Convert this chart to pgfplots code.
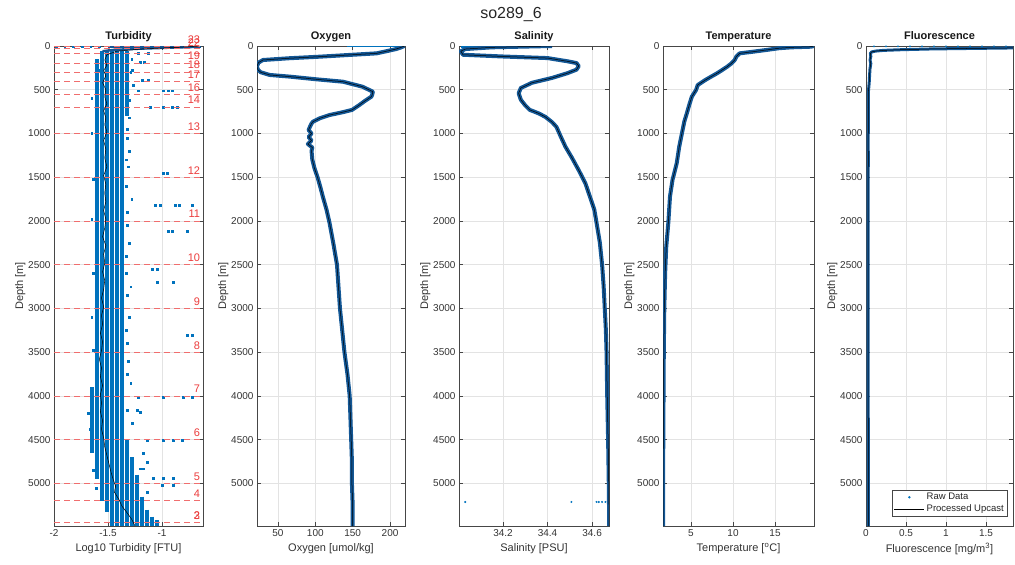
\documentclass[border=0pt]{standalone}
\usepackage{pgfplots}
\pgfplotsset{compat=1.18}
\usepackage{fontspec}
\setmainfont{Liberation Sans}
\definecolor{rawblue}{RGB}{0,114,189}
\definecolor{thickblue}{RGB}{20,88,150}
\definecolor{bred}{RGB}{235,60,60}
\definecolor{dred}{RGB}{240,110,110}
\definecolor{axgray}{RGB}{70,70,70}
\tikzset{blab/.style={anchor=base east, text=bred, font=\fontsize{11}{12}\selectfont, inner sep=0pt, yshift=3pt}}
\pgfplotsset{
 panel/.style={
  scale only axis, height=480pt, y dir=reverse, ymin=0, ymax=5486,
  ytick={0,500,...,5000},
  grid=major, major grid style={gray!22, line width=0.5pt},
  axis line style={axgray, line width=0.5pt},
  major tick style={axgray, line width=0.5pt}, major tick length=4pt,
  tick align=inside,
  tick label style={font=\fontsize{10}{12}\selectfont, text=black!80},
  /pgf/number format/assume math mode=true,
  /pgf/number format/1000 sep={},
  scaled ticks=false,
  ylabel={Depth [m]}, ylabel shift=-4pt,
  label style={font=\fontsize{11}{13}\selectfont, text=black!80},
  title style={font=\bfseries\fontsize{11}{13}\selectfont, text=black!90, yshift=-6pt, text depth=2.5pt},
  anchor=south west,
  clip mode=individual,
 },
 rawline/.style={thickblue, line width=4pt, line join=round},
 procline/.style={black, line width=0.5pt, line join=round},
 rawmark/.style={only marks, mark=*, mark size=0.8pt, rawblue},
 col/.style={rawblue, line width=3.4pt},
 bottle/.style={dred, line width=0.8pt, dash pattern=on 6pt off 4pt},
}
\begin{document}
\begin{tikzpicture}[x=1pt,y=1pt]
\useasboundingbox (0,0) rectangle (1015,565);
\node[font=\fontsize{16}{18}\selectfont, text=black!85] at (511,550) {so289\_6};

% ---------------- Turbidity ----------------
\begin{axis}[panel, at={(54pt,39pt)}, width=149pt, xmin=-2, xmax=-0.62,
  xtick={-2,-1.5,-1}, xlabel={Log10 Turbidity [FTU]}, title={Turbidity}]
\addplot[col] coordinates {(-1.648,3900) (-1.648,4650)};
\addplot[col] coordinates {(-1.602,150) (-1.602,4950)};
\addplot[col] coordinates {(-1.556,60) (-1.556,5200)};
\addplot[col] coordinates {(-1.509,60) (-1.509,5330)};
\addplot[col] coordinates {(-1.463,60) (-1.463,5486)};
\addplot[col] coordinates {(-1.417,60) (-1.417,5486)};
\addplot[col] coordinates {(-1.370,60) (-1.370,5486)};
\addplot[col] coordinates {(-1.324,60) (-1.324,800)};
\addplot[col] coordinates {(-1.324,4500) (-1.324,5486)};
\addplot[col] coordinates {(-1.278,4700) (-1.278,5486)};
\addplot[col] coordinates {(-1.231,4900) (-1.231,5486)};
\addplot[col] coordinates {(-1.185,5150) (-1.185,5486)};
\addplot[col] coordinates {(-1.139,5300) (-1.139,5486)};
\addplot[col] coordinates {(-1.093,5380) (-1.093,5486)};
\addplot[col] coordinates {(-1.046,5420) (-1.046,5486)};
\addplot[rawline, line width=2.5pt] coordinates {(-1.55,60) (-1.45,45) (-1.2,30) (-0.9,18) (-0.64,8)};
\addplot[rawline, line width=2pt] coordinates {(-1.5,14) (-0.64,14)};
\addplot[rawmark, mark=square*, mark size=0.9pt] coordinates {
(-1.98,8)(-1.90,8)(-1.82,8)(-1.74,8)(-1.66,8)(-1.58,8)
(-1.222,84)(-1.13,84)(-1.204,183)(-1.167,183)(-1.574,274)(-1.278,274)
(-1.13,389)(-1.185,389)(-1.222,511)(-0.991,511)(-0.944,511)(-0.907,511)
(-1.111,700)(-0.991,700)(-0.907,700)(-0.861,700)
(-0.991,1450)(-0.954,1450)
(-1.065,1820)(-1.019,1820)(-0.88,1817)(-0.843,1817)(-0.722,1817)
(-0.944,2114)(-0.907,2114)(-0.769,2114)
(-1.093,2549)(-1.046,2549)(-1.046,2697)(-0.898,2697)
(-0.769,3303)(-0.722,3303)
(-1.222,4011)(-0.991,4011)(-0.806,4011)(-0.722,4011)
(-1.324,4160)(-1.231,4160)(-1.204,4183)(-1.278,4310)
(-1.139,4503)(-0.991,4503)(-0.898,4503)(-0.815,4503)
(-1.176,4650)(-1.139,4754)(-1.083,4937)(-0.991,4937)(-0.898,4937)
(-1.204,4830)(-1.176,4830)(-1.0,5017)(-0.898,5017)(-1.139,5097)
(-1.32,1050)(-1.30,1200)(-1.31,1380)(-1.33,1600)(-1.28,1750)(-1.32,2050)
(-1.30,2250)(-1.33,2400)(-1.29,2750)(-1.32,2850)(-1.30,3100)(-1.33,3250)
(-1.31,3600)(-1.32,3750)(-1.29,3850)(-1.28,150)(-1.29,300)(-1.27,450)
(-1.30,620)(-1.30,820)(-1.32,950)(-1.33,1300)(-1.32,1900)(-1.33,2600)(-1.32,3400)
(-1.65,1000)(-1.64,1520)(-1.65,1980)(-1.64,2600)(-1.65,3100)(-1.64,3480)
(-1.68,4200)(-1.67,4380)(-1.64,4850)(-1.61,5050)(-1.65,600)};
% bottle lines
\addplot[bottle] coordinates {(-2,0) (-0.62,0)};
\addplot[bottle] coordinates {(-2,25) (-0.62,25)};
\addplot[bottle] coordinates {(-2,80) (-0.62,80)};
\addplot[bottle] coordinates {(-2,194) (-0.62,194)};
\addplot[bottle] coordinates {(-2,297) (-0.62,297)};
\addplot[bottle] coordinates {(-2,400) (-0.62,400)};
\addplot[bottle] coordinates {(-2,549) (-0.62,549)};
\addplot[bottle] coordinates {(-2,697) (-0.62,697)};
\addplot[bottle] coordinates {(-2,1000) (-0.62,1000)};
\addplot[bottle] coordinates {(-2,1500) (-0.62,1500)};
\addplot[bottle] coordinates {(-2,2000) (-0.62,2000)};
\addplot[bottle] coordinates {(-2,2500) (-0.62,2500)};
\addplot[bottle] coordinates {(-2,3000) (-0.62,3000)};
\addplot[bottle] coordinates {(-2,3500) (-0.62,3500)};
\addplot[bottle] coordinates {(-2,4000) (-0.62,4000)};
\addplot[bottle] coordinates {(-2,4500) (-0.62,4500)};
\addplot[bottle] coordinates {(-2,5003) (-0.62,5003)};
\addplot[bottle] coordinates {(-2,5197) (-0.62,5197)};
\addplot[bottle] coordinates {(-2,5445) (-0.62,5445)};
\addplot[procline] coordinates {
(-0.66,2)(-0.9,18)(-1.2,35)(-1.42,60)(-1.51,100)(-1.53,160)(-1.51,220)(-1.54,280)
(-1.52,340)(-1.55,420)(-1.52,500)(-1.53,580)(-1.51,660)(-1.54,740)(-1.52,820)
(-1.53,900)(-1.51,980)(-1.54,1080)(-1.52,1180)(-1.53,1280)(-1.51,1380)(-1.54,1480)
(-1.52,1580)(-1.53,1680)(-1.52,1780)(-1.54,1880)(-1.52,1980)(-1.53,2080)(-1.55,2180)
(-1.52,2280)(-1.54,2380)(-1.53,2480)(-1.55,2580)(-1.53,2680)(-1.54,2780)(-1.56,2880)
(-1.54,2980)(-1.56,3080)(-1.55,3180)(-1.57,3280)(-1.55,3380)(-1.56,3480)(-1.58,3580)
(-1.56,3680)(-1.57,3780)(-1.55,3880)(-1.57,3980)(-1.56,4080)(-1.57,4180)(-1.55,4280)
(-1.56,4380)(-1.54,4480)(-1.53,4580)(-1.51,4680)(-1.49,4780)(-1.47,4880)(-1.45,4960)
(-1.43,5030)(-1.44,5100)(-1.40,5180)(-1.37,5260)(-1.32,5340)(-1.28,5410)(-1.25,5486)};
\node[blab] at (axis cs:-0.645,0) {23};
\node[blab] at (axis cs:-0.645,35) {22};
\node[blab] at (axis cs:-0.645,194) {19};
\node[blab] at (axis cs:-0.645,297) {18};
\node[blab] at (axis cs:-0.645,400) {17};
\node[blab] at (axis cs:-0.645,549) {16};
\node[blab] at (axis cs:-0.645,697) {14};
\node[blab] at (axis cs:-0.645,1000) {13};
\node[blab] at (axis cs:-0.645,1500) {12};
\node[blab] at (axis cs:-0.645,2000) {11};
\node[blab] at (axis cs:-0.645,2500) {10};
\node[blab] at (axis cs:-0.645,3000) {9};
\node[blab] at (axis cs:-0.645,3500) {8};
\node[blab] at (axis cs:-0.645,4000) {7};
\node[blab] at (axis cs:-0.645,4500) {6};
\node[blab] at (axis cs:-0.645,5003) {5};
\node[blab] at (axis cs:-0.645,5197) {4};
\node[blab] at (axis cs:-0.645,5445) {3};
\node[blab] at (axis cs:-0.645,5445) {2};
\end{axis}

% ---------------- Oxygen ----------------
\begin{axis}[panel, at={(257pt,39pt)}, width=148pt, xmin=22, xmax=220,
  xtick={50,100,150,200}, xlabel={Oxygen [umol/kg]}, title={Oxygen}]
\addplot[rawblue, line width=1.5pt] coordinates {(142,3) (216,3)};
\addplot[rawline] coordinates {
(219,0)(215,15)(208,35)(195,60)(182,84)(150,100)(106,122)(65,140)(30,160)(24,190)
(22,230)(23,270)(27,300)(39,331)(66,350)(102,381)(137,408)(163,465)(177,522)(176,560)
(175,579)(166,630)(159,674)(149,731)(135,760)(119,789)(106,826)(97,865)(95,885)(93,920)
(91,960)(95,1000)(91,1040)(95,1080)(90,1120)(96,1160)(95,1200)(96,1300)(99,1400)(103,1500)
(107,1620)(110,1720)(115,1870)(119,2020)(124,2250)(129,2500)(131,2750)(133,3000)(136,3250)
(139,3500)(143,3750)(146,4000)(147,4250)(148,4500)(149,4750)(149,5000)(150,5250)(150,5486)};
\addplot[procline] coordinates {
(219,0)(215,15)(208,35)(195,60)(182,84)(150,100)(106,122)(65,140)(30,160)(24,190)
(22,230)(23,270)(27,300)(39,331)(66,350)(102,381)(137,408)(163,465)(177,522)(176,560)
(175,579)(166,630)(159,674)(149,731)(135,760)(119,789)(106,826)(97,865)(95,885)(93,920)
(91,960)(95,1000)(91,1040)(95,1080)(90,1120)(96,1160)(95,1200)(96,1300)(99,1400)(103,1500)
(107,1620)(110,1720)(115,1870)(119,2020)(124,2250)(129,2500)(131,2750)(133,3000)(136,3250)
(139,3500)(143,3750)(146,4000)(147,4250)(148,4500)(149,4750)(149,5000)(150,5250)(150,5486)};
\end{axis}

% ---------------- Salinity ----------------
\begin{axis}[panel, at={(459pt,39pt)}, width=150pt, xmin=34.002, xmax=34.676,
  xtick={34.2,34.4,34.6}, xlabel={Salinity [PSU]}, title={Salinity}]
\addplot[rawblue, line width=2.5pt] coordinates {(34.01,6) (34.42,6)};
\addplot[rawmark] coordinates {(34.03,5211)(34.507,5211)(34.62,5211)(34.63,5211)(34.645,5211)(34.66,5211)};
\addplot[rawline] coordinates {
(34.42,0)(34.15,15)(34.03,35)(34.01,60)(34.02,100)(34.2,120)(34.4,138)(34.49,175)(34.53,195)
(34.54,230)(34.53,270)(34.49,310)(34.42,365)(34.33,420)(34.28,480)(34.27,540)(34.28,615)
(34.30,680)(34.32,730)(34.36,770)(34.39,810)(34.42,870)(34.44,925)(34.46,1040)(34.48,1150)
(34.51,1280)(34.54,1420)(34.57,1570)(34.59,1720)(34.61,1870)(34.62,2020)(34.635,2250)
(34.645,2500)(34.652,2750)(34.657,3000)(34.662,3250)(34.665,3500)(34.668,4000)(34.672,4500)
(34.675,5000)(34.677,5486)};
\addplot[procline] coordinates {
(34.42,0)(34.15,15)(34.03,35)(34.01,60)(34.02,100)(34.2,120)(34.4,138)(34.49,175)(34.53,195)
(34.54,230)(34.53,270)(34.49,310)(34.42,365)(34.33,420)(34.28,480)(34.27,540)(34.28,615)
(34.30,680)(34.32,730)(34.36,770)(34.39,810)(34.42,870)(34.44,925)(34.46,1040)(34.48,1150)
(34.51,1280)(34.54,1420)(34.57,1570)(34.59,1720)(34.61,1870)(34.62,2020)(34.635,2250)
(34.645,2500)(34.652,2750)(34.657,3000)(34.662,3250)(34.665,3500)(34.668,4000)(34.672,4500)
(34.675,5000)(34.677,5486)};
\end{axis}

% ---------------- Temperature ----------------
\begin{axis}[panel, at={(663pt,39pt)}, width=151pt, xmin=1.667, xmax=19.64,
  xtick={5,10,15}, xlabel={Temperature [\textsuperscript{o}C]}, title={Temperature}]
\addplot[rawblue, line width=2pt] coordinates {(16.8,4) (19.6,4)};
\addplot[rawline] coordinates {
(19.6,0)(19.3,8)(17,15)(15.5,25)(14,45)(12.4,65)(10.8,84)(10.4,120)(10.2,160)(9.8,200)
(9.3,237)(8.7,275)(8.1,312)(7.4,350)(6.7,389)(5.8,446)(5.6,503)(5.1,579)(4.8,670)(4.5,770)
(4.2,865)(4.0,960)(3.6,1150)(3.3,1340)(2.8,1530)(2.5,1720)(2.3,2020)(2.05,2300)(1.92,2600)
(1.82,3000)(1.76,3500)(1.73,4000)(1.70,4500)(1.68,5000)(1.67,5486)};
\addplot[procline] coordinates {
(19.6,0)(19.3,8)(17,15)(15.5,25)(14,45)(12.4,65)(10.8,84)(10.4,120)(10.2,160)(9.8,200)
(9.3,237)(8.7,275)(8.1,312)(7.4,350)(6.7,389)(5.8,446)(5.6,503)(5.1,579)(4.8,670)(4.5,770)
(4.2,865)(4.0,960)(3.6,1150)(3.3,1340)(2.8,1530)(2.5,1720)(2.3,2020)(2.05,2300)(1.92,2600)
(1.82,3000)(1.76,3500)(1.73,4000)(1.70,4500)(1.68,5000)(1.67,5486)};
\end{axis}

% ---------------- Fluorescence ----------------
\begin{axis}[panel, at={(866pt,39pt)}, width=147pt, xmin=0, xmax=1.8375,
  xtick={0,0.5,1,1.5}, xlabel={Fluorescence [mg/m\textsuperscript{3}]}, title={Fluorescence},
  legend style={at={(0.18,0.019)}, anchor=south west, font=\fontsize{9.5}{11}\selectfont,
    draw=axgray, inner sep=1.5pt, row sep=-0.5pt, cells={anchor=west}, text=black!85}]
\addplot[rawmark, legend image code/.code={\fill[rawblue] (15pt,0pt) circle (1pt);}] coordinates {
(0.1,4)(0.25,4)(0.4,4)(0.55,4)(0.7,4)(0.85,4)(1.0,4)(1.15,4)(1.3,4)(1.45,4)(1.6,4)(1.75,4)};
\addlegendentry{Raw Data}
\addplot[rawline, line width=3pt, forget plot] coordinates {
(1.84,22)(1.3,28)(0.8,34)(0.45,42)(0.22,50)(0.12,58)(0.07,68)(0.055,85)(0.06,120)(0.05,160)
(0.06,200)(0.05,260)(0.045,330)(0.04,420)(0.03,520)(0.028,700)(0.03,900)(0.026,1100)(0.03,1300)
(0.025,1500)(0.028,1800)(0.025,2100)(0.028,2500)(0.025,3000)(0.028,3500)(0.026,4000)(0.03,4500)
(0.028,5000)(0.03,5486)};
\addplot[procline, legend image code/.code={\draw[black,line width=0.5pt] (0pt,0pt) -- (30pt,0pt);}] coordinates {
(1.84,22)(1.3,28)(0.8,34)(0.45,42)(0.22,50)(0.12,58)(0.07,68)(0.055,85)(0.06,120)(0.05,160)
(0.06,200)(0.05,260)(0.045,330)(0.04,420)(0.03,520)(0.028,700)(0.03,900)(0.026,1100)(0.03,1300)
(0.025,1500)(0.028,1800)(0.025,2100)(0.028,2500)(0.025,3000)(0.028,3500)(0.026,4000)(0.03,4500)
(0.028,5000)(0.03,5486)};
\addlegendentry{Processed Upcast}
\end{axis}
\end{tikzpicture}
\end{document}
